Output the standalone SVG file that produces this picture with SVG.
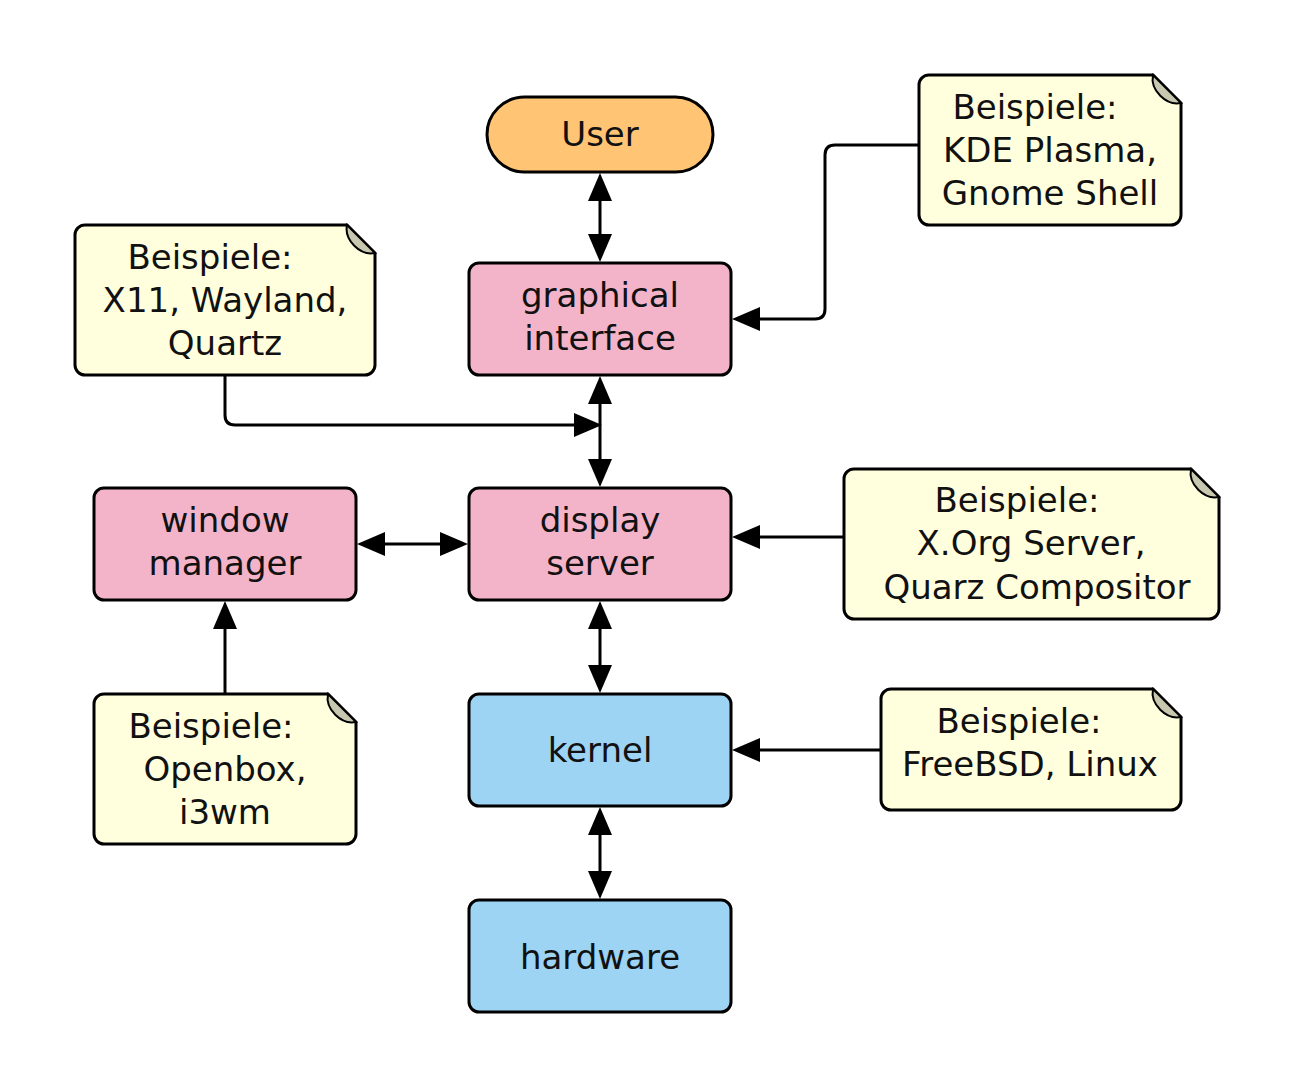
<svg xmlns="http://www.w3.org/2000/svg" width="1294" height="1088" viewBox="0 0 1294 1088">
<style>
text{font-family:"DejaVu Sans","Liberation Sans",sans-serif;font-size:34px;fill:#111;text-anchor:middle}
.box{stroke:#000;stroke-width:3}
.pink{fill:#F3B4C9}
.blue{fill:#9DD3F3}
.user{fill:#FFC474}
.note{fill:#FFFFDD;stroke:#000;stroke-width:3}
.fold{fill:#C8C8B0;stroke:#000;stroke-width:2}
.c{fill:none;stroke:#000;stroke-width:3}
</style>
<defs>
<marker id="ah" markerUnits="userSpaceOnUse" markerWidth="30" markerHeight="26" refX="1" refY="12" orient="auto-start-reverse" viewBox="0 0 30 26">
<path d="M0,0 L28,12 L0,24 Z" fill="#000"/>
</marker>
</defs>
<rect width="1294" height="1088" fill="#fff"/>
<g id="connectors">
<line class="c" x1="600" y1="200" x2="600" y2="235" marker-start="url(#ah)" marker-end="url(#ah)"/>
<line class="c" x1="600" y1="403" x2="600" y2="460" marker-start="url(#ah)" marker-end="url(#ah)"/>
<path class="c" d="M225,375 V415 Q225,425 235,425 H575" marker-end="url(#ah)"/>
<path class="c" d="M919,145 H835 Q825,145 825,155 V309 Q825,319 815,319 H759" marker-end="url(#ah)"/>
<line class="c" x1="384" y1="544" x2="441" y2="544" marker-start="url(#ah)" marker-end="url(#ah)"/>
<line class="c" x1="844" y1="537" x2="759" y2="537" marker-end="url(#ah)"/>
<line class="c" x1="600" y1="628" x2="600" y2="666" marker-start="url(#ah)" marker-end="url(#ah)"/>
<line class="c" x1="881" y1="750" x2="759" y2="750" marker-end="url(#ah)"/>
<line class="c" x1="600" y1="834" x2="600" y2="872" marker-start="url(#ah)" marker-end="url(#ah)"/>
<line class="c" x1="225" y1="694" x2="225" y2="628" marker-end="url(#ah)"/>
</g>
<g id="user">
<rect class="box user" x="487" y="97" width="226" height="75" rx="37.5"/>
<text x="600" y="146">User</text>
</g>
<g id="graphical-interface">
<rect class="box pink" x="469" y="263" width="262" height="112" rx="10"/>
<text x="600" y="307">graphical</text>
<text x="600" y="350">interface</text>
</g>
<g id="display-server">
<rect class="box pink" x="469" y="488" width="262" height="112" rx="10"/>
<text x="600" y="532">display</text>
<text x="600" y="575">server</text>
</g>
<g id="window-manager">
<rect class="box pink" x="94" y="488" width="262" height="112" rx="10"/>
<text x="225" y="532">window</text>
<text x="225" y="575">manager</text>
</g>
<g id="kernel">
<rect class="box blue" x="469" y="694" width="262" height="112" rx="10"/>
<text x="600" y="762">kernel</text>
</g>
<g id="hardware">
<rect class="box blue" x="469" y="900" width="262" height="112" rx="10"/>
<text x="600" y="969">hardware</text>
</g>
<g id="note-kde">
<path class="note" d="M929,75 H1153 L1181,103 V215 A10,10 0 0 1 1171,225 H929 A10,10 0 0 1 919,215 V85 A10,10 0 0 1 929,75 Z"/>
<path class="fold" d="M1153,75 C1150,90 1166,106 1181,103 Z"/>
<text x="1035" y="119">Beispiele:</text>
<text x="1050" y="162">KDE Plasma,</text>
<text x="1050" y="205">Gnome Shell</text>
</g>
<g id="note-x11">
<path class="note" d="M85,225 H347 L375,253 V365 A10,10 0 0 1 365,375 H85 A10,10 0 0 1 75,365 V235 A10,10 0 0 1 85,225 Z"/>
<path class="fold" d="M347,225 C344,240 360,256 375,253 Z"/>
<text x="210" y="269">Beispiele:</text>
<text x="225" y="312">X11, Wayland,</text>
<text x="225" y="355">Quartz</text>
</g>
<g id="note-xorg">
<path class="note" d="M854,469 H1191 L1219,497 V609 A10,10 0 0 1 1209,619 H854 A10,10 0 0 1 844,609 V479 A10,10 0 0 1 854,469 Z"/>
<path class="fold" d="M1191,469 C1188,484 1204,500 1219,497 Z"/>
<text x="1017" y="512">Beispiele:</text>
<text x="1031" y="555">X.Org Server,</text>
<text x="1037" y="599">Quarz Compositor</text>
</g>
<g id="note-freebsd">
<path class="note" d="M891,689 H1153 L1181,717 V800 A10,10 0 0 1 1171,810 H891 A10,10 0 0 1 881,800 V699 A10,10 0 0 1 891,689 Z"/>
<path class="fold" d="M1153,689 C1150,704 1166,720 1181,717 Z"/>
<text x="1019" y="733">Beispiele:</text>
<text x="1030" y="776">FreeBSD, Linux</text>
</g>
<g id="note-openbox">
<path class="note" d="M104,694 H328 L356,722 V834 A10,10 0 0 1 346,844 H104 A10,10 0 0 1 94,834 V704 A10,10 0 0 1 104,694 Z"/>
<path class="fold" d="M328,694 C325,709 341,725 356,722 Z"/>
<text x="211" y="738">Beispiele:</text>
<text x="225" y="781">Openbox,</text>
<text x="225" y="824">i3wm</text>
</g>
</svg>
